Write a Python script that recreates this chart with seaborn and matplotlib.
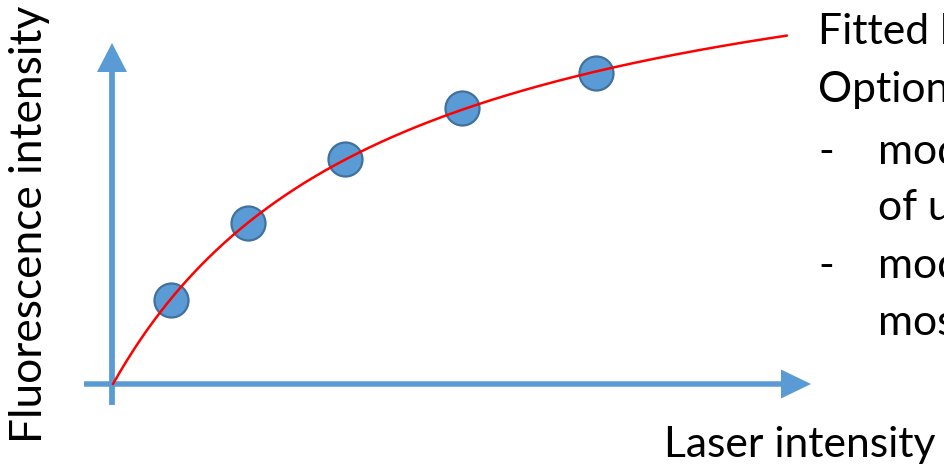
import numpy as np
import pandas as pd
import matplotlib
matplotlib.use("Agg")
import matplotlib.pyplot as plt
import seaborn as sns

# ---- data (arbitrary units) ----
laser_intensity = [0.58, 1.35, 2.32, 3.49, 4.83]
fluorescence_intensity = [0.84, 1.61, 2.25, 2.76, 3.11]
fit_x_max = 6.74

x_label = "Laser intensity"
y_label = "Fluorescence intensity"
side_lines = [("Fitted l", 0), ("Option", 1)]
bullet_lines = [("-", "mod", 2), (None, "of u", 3), ("-", "mod", 4), (None, "mos", 5)]

# ---- fit a saturating curve y = A x / (K + x) to the points ----
xd = np.array(laser_intensity)
yd = np.array(fluorescence_intensity)
best = None
for K in np.linspace(0.2, 20, 4000):
    f = xd / (K + xd)
    A = np.sum(yd * f) / np.sum(f * f)
    err = np.sum((yd - A * f) ** 2)
    if best is None or err < best[0]:
        best = (err, A, K)
_, A_fit, K_fit = best
fit_x = np.linspace(0, fit_x_max, 300)
fit_df = pd.DataFrame({"x": fit_x, "y": A_fit * fit_x / (K_fit + fit_x)})
pts_df = pd.DataFrame({"x": laser_intensity, "y": fluorescence_intensity})

# ---- styling ----
sns.set_style("white")
plt.rcParams["font.family"] = ["Lato", "DejaVu Sans"]
BLUE = "#5B9BD5"
EDGE = "#41719C"

fig = plt.figure(figsize=(9.45, 4.68), dpi=100)
ax = fig.add_axes([0, 0, 1, 1])
ax.set_xlim(-1.13, 8.32)
ax.set_ylim(-0.84, 3.84)
ax.axis("off")

# axes arrows
ax.arrow(-0.29, 0.0, 7.27, 0.0, width=0.055, head_width=0.29, head_length=0.30,
         length_includes_head=True, color=BLUE, lw=0, zorder=1)
ax.arrow(-0.01, -0.21, 0.0, 3.62, width=0.058, head_width=0.30, head_length=0.29,
         length_includes_head=True, color=BLUE, lw=0, zorder=1)

sns.scatterplot(data=pts_df, x="x", y="y", ax=ax, s=600, color=BLUE,
                edgecolor=EDGE, linewidth=1.6, zorder=3, legend=False)
sns.lineplot(data=fit_df, x="x", y="y", ax=ax, color="#FF0000", linewidth=1.8,
             zorder=4, legend=False)
ax.axis("off")

def px(xp, yp):
    return ((xp - 113) / 100.0, (384 - yp) / 100.0)

renderer = fig.canvas.get_renderer()

def fit_width(t, target, vertical=False):
    for _ in range(3):
        bb = t.get_window_extent(renderer)
        cur = bb.height if vertical else bb.width
        t.set_fontsize(t.get_fontsize() * target / cur)

xl = ax.text(*px(664, 457), x_label, ha="left", va="baseline", fontsize=24, color="black")
fit_width(xl, 271)
fs = xl.get_fontsize()

yl = ax.text(*px(42, 443), y_label, rotation=90, rotation_mode="anchor",
             ha="left", va="baseline", fontsize=24, color="black")
fit_width(yl, 437, vertical=True)

baselines = [44, 102, 164, 220, 278, 335]
for txt, i in side_lines:
    ax.text(*px(818, baselines[i]), txt, ha="left", va="baseline", fontsize=fs, color="black")
for dash, txt, i in bullet_lines:
    if dash:
        ax.text(*px(818, baselines[i]), dash, ha="left", va="baseline", fontsize=fs, color="black")
    ax.text(*px(878, baselines[i]), txt, ha="left", va="baseline", fontsize=fs, color="black")

fig.savefig("out.png", dpi=100)
